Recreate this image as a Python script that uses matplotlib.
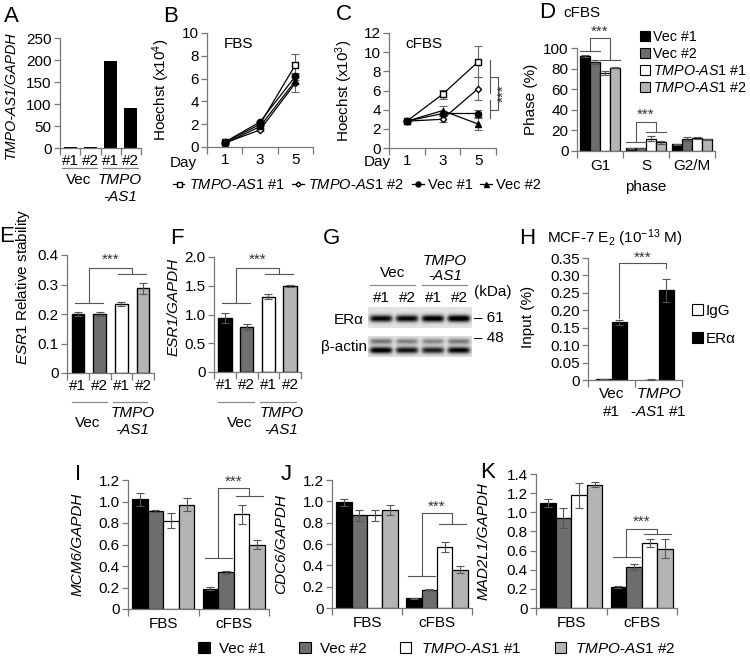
import numpy as np
import matplotlib
matplotlib.use("Agg")
import matplotlib.pyplot as plt
import matplotlib.transforms as mtransforms
from matplotlib.patches import Patch
from matplotlib.lines import Line2D
from matplotlib.ticker import FixedLocator, FuncFormatter

plt.rcParams['font.family'] = ['Liberation Sans', 'DejaVu Sans']
plt.rcParams['font.size'] = 10.5
plt.rcParams['mathtext.fontset'] = 'custom'
plt.rcParams['mathtext.rm'] = 'Liberation Sans'
plt.rcParams['mathtext.it'] = 'Liberation Sans:italic'
plt.rcParams['mathtext.default'] = 'regular'

# ---------------- data ----------------
clones = ['#1', '#2', '#1', '#2']
series = ['Vec #1', 'Vec #2', 'TMPO-AS1 #1', 'TMPO-AS1 #2']
fills = ['#000000', '#6e6e6e', '#ffffff', '#b4b4b4']

# A
a_vals = [3, 3, 198, 90]

# B / C (Hoechst, days 1, 3, 5)
days = ['1', '3', '5']
curve_names = ['TMPO-AS1 #1', 'TMPO-AS1 #2', 'Vec #1', 'Vec #2']
b_vals = [[0.4, 2.0, 7.2], [0.35, 1.5, 5.6], [0.42, 2.2, 6.2], [0.3, 1.8, 5.8]]
b_errs = [[0.05, 0.15, 1.0], [0.05, 0.1, 0.8], [0.05, 0.1, 0.3], [0.05, 0.1, 0.3]]
c_vals = [[2.8, 5.6, 9.0], [2.8, 3.0, 6.2], [2.8, 3.6, 3.6], [2.8, 3.9, 2.5]]
c_errs = [[0.1, 0.45, 1.6], [0.1, 0.3, 1.2], [0.1, 0.3, 0.4], [0.1, 0.5, 0.6]]

# D (cell cycle phase, cFBS)
phases = ['G1', 'S', 'G2/M']
d_vals = [[92, 86, 76, 81], [2.5, 3, 12, 8.5], [6.5, 12, 12.5, 11.5]]
d_errs = [[1, 2, 2, 0.5], [0.3, 0.3, 2.5, 1.5], [0.3, 2, 1, 0.5]]

# E, F
e_vals = [0.200, 0.200, 0.235, 0.287]
e_errs = [0.008, 0.008, 0.007, 0.018]
f_vals = [0.94, 0.78, 1.31, 1.50]
f_errs = [0.09, 0.05, 0.04, 0.02]

# G (western blot band intensities)
era_band = [0.9, 0.9, 0.95, 1.0]
actin_band = [0.95, 0.85, 0.8, 0.9]

# H (ChIP)
h_groups = ['Vec\n#1', '$\\mathit{TMPO}$\n-$\\mathit{AS1}$ #1']
h_igg = [0.003, 0.001]
h_igg_err = [0.001, 0.0005]
h_era = [0.165, 0.258]
h_era_err = [0.007, 0.033]

# I, J, K (FBS, cFBS)
conds = ['FBS', 'cFBS']
i_vals = [[1.02, 0.91, 0.82, 0.97], [0.19, 0.34, 0.88, 0.60]]
i_errs = [[0.06, 0.01, 0.07, 0.06], [0.015, 0.01, 0.085, 0.04]]
j_vals = [[0.99, 0.87, 0.87, 0.92], [0.09, 0.17, 0.57, 0.36]]
j_errs = [[0.03, 0.05, 0.05, 0.05], [0.003, 0.005, 0.045, 0.03]]
k_vals = [[1.10, 0.94, 1.18, 1.29], [0.22, 0.43, 0.68, 0.62]]
k_errs = [[0.04, 0.10, 0.13, 0.03], [0.01, 0.03, 0.04, 0.10]]

W, H = 750, 656
fig = plt.figure(figsize=(W / 100, H / 100), dpi=100)
AX = '#777777'
SIG = '#555555'
FS = 11


def it(s):
    # italicise the gene part of a series name
    if s.startswith('TMPO-AS1'):
        return '$\\mathit{TMPO}$-$\\mathit{AS1}$' + s[8:]
    return s


def px_axes(x0, x1, y0, y1):
    return fig.add_axes([x0 / W, 1 - y1 / H, (x1 - x0) / W, (y1 - y0) / H])


def ftext(x, y, s, **kw):
    kw.setdefault('ha', 'center')
    kw.setdefault('va', 'center')
    kw.setdefault('fontsize', FS)
    return fig.text(x / W, 1 - y / H, s, **kw)


def style(ax):
    for s in ['top', 'right']:
        ax.spines[s].set_visible(False)
    for s in ['left', 'bottom']:
        ax.spines[s].set_color(AX)
        ax.spines[s].set_linewidth(0.9)
    ax.tick_params(axis='y', colors=AX, labelcolor='black', labelsize=FS, length=4, width=0.9, pad=2)


def cat_x(ax, n, labels, pad=4):
    ax.set_xlim(0, n)
    ax.xaxis.set_major_locator(FixedLocator(np.arange(n) + 0.5))
    ax.set_xticklabels(labels)
    ax.xaxis.set_minor_locator(FixedLocator(np.arange(n + 1)))
    ax.tick_params(axis='x', which='major', length=0, pad=pad, labelsize=FS)
    ax.tick_params(axis='x', which='minor', length=5, width=0.9, color=AX)


def yaxis(ax, top, step, dec):
    ax.set_ylim(0, top)
    ax.set_yticks(np.arange(0, top + step / 2, step))
    ax.yaxis.set_major_formatter(FuncFormatter(lambda v, p: '0' if abs(v) < 1e-9 else f'{v:.{dec}f}'))


def ylab(ax, s, xpx, ypx=None, fs=11, **kw):
    ax.set_ylabel(s, fontsize=fs, **kw)
    pos = ax.get_position()
    x0, w = pos.x0 * W, pos.width * W
    ytop, h = (1 - pos.y1) * H, pos.height * H
    yf = 0.5 if ypx is None else (ytop + h - ypx) / h
    ax.yaxis.set_label_coords((xpx - x0) / w, yf)


def below(ax, x, ypx, s, **kw):
    tr = mtransforms.blended_transform_factory(ax.transData, fig.transFigure)
    ax.text(x, 1 - ypx / H, s, transform=tr, ha='center', va='center', fontsize=FS, clip_on=False, **kw)


def uline(ax, x0, x1, ypx):
    tr = mtransforms.blended_transform_factory(ax.transData, fig.transFigure)
    ax.plot([x0, x1], [1 - ypx / H] * 2, transform=tr, color='#888888', lw=0.9, clip_on=False,
            scalex=False, scaley=False)


def sig(ax, xa, xb, ya, yb, ytop, ystar, half=None):
    kw = dict(color=SIG, lw=0.8, clip_on=False, scalex=False, scaley=False)
    if half is not None:
        ax.plot([xa - half, xa + half], [ya, ya], **kw)
        ax.plot([xb - half, xb + half], [yb, yb], **kw)
    ax.plot([xa, xa, xb, xb], [ya, ytop, ytop, yb], **kw)
    ax.text((xa + xb) / 2, ystar, '***', ha='center', va='center', fontsize=FS, color='#333333')


def ebar(ax, x, y, e):
    ax.errorbar(x, y, yerr=e, fmt='none', ecolor=SIG, elinewidth=0.8, capsize=3, capthick=0.8, zorder=3)


def grouped(ax, vals, errs, w):
    ncat = len(vals)
    for k in range(4):
        xs = np.arange(ncat) + 0.5 + (k - 1.5) * w
        v = [vals[c][k] for c in range(ncat)]
        e = [errs[c][k] for c in range(ncat)]
        ax.bar(xs, v, w, color=fills[k], edgecolor='black', lw=0.9, zorder=2)
        ebar(ax, xs, v, e)


def single(ax, vals, errs, w):
    xs = np.arange(4) + 0.5
    ax.bar(xs, vals, w, color=fills, edgecolor='black', lw=1.0, zorder=2)
    ebar(ax, xs, vals, errs)


# ---------------- A ----------------
axA = px_axes(60, 141, 38, 148)
style(axA)
axA.bar(np.arange(4) + 0.5, a_vals, 0.65, color='black', zorder=2)
yaxis(axA, 250, 50, 0)
cat_x(axA, 4, clones)
ylab(axA, 'TMPO-AS1/GAPDH', 18, 95, fs=10.3, style='italic')
uline(axA, 0.12, 1.85, 168)
uline(axA, 2.1, 3.85, 168)
below(axA, 0.9, 180, 'Vec')
below(axA, 2.95, 180, 'TMPO', style='italic')
below(axA, 2.95, 197, '-AS1', style='italic')

# ---------------- B / C ----------------
markers = [('s', 'white', 4.5), ('D', 'white', 3.2), ('o', 'black', 4.5), ('^', 'black', 4.5)]


def curves(ax, vals, errs):
    x = np.arange(3) + 0.5
    for y, e, (m, mfc, ms) in zip(vals, errs, markers):
        ax.errorbar(x, y, yerr=e, color='black', lw=0.9, marker=m, mfc=mfc, mec='black', ms=ms,
                    ecolor='#666666', elinewidth=0.8, capsize=3, capthick=0.8)


axB = px_axes(207, 313, 33, 147)
style(axB)
curves(axB, b_vals, b_errs)
yaxis(axB, 10, 2, 0)
cat_x(axB, 3, days)
ylab(axB, 'Hoechst (x10$^{4}$)', 172)
axB.text(0.88, 9.0, 'FBS', ha='center', va='center', fontsize=FS)
ftext(197, 163, 'Day', ha='right')

axC = px_axes(389, 496, 33, 148)
style(axC)
curves(axC, c_vals, c_errs)
yaxis(axC, 12, 2, 0)
cat_x(axC, 3, days)
ylab(axC, 'Hoechst (x10$^{3}$)', 355)
axC.text(0.98, 10.9, 'cFBS', ha='center', va='center', fontsize=FS)
ftext(391, 162, 'Day', ha='right')
kw = dict(color=SIG, lw=0.8, clip_on=False, scalex=False, scaley=False)
axC.plot([2.83, 2.83], [9.2, 5.7], **kw)
axC.plot([2.83, 3.05, 3.05, 2.83], [7.4, 7.4, 4.0, 4.0], **kw)
axC.plot([2.83, 2.83], [5.0, 3.1], **kw)
axC.text(3.22, 5.7, '***', rotation=90, ha='center', va='center', fontsize=FS, color='#333333')

handles = [Line2D([], [], color='black', lw=0.9, marker=m, mfc=mfc, mec='black', ms=ms * 0.8)
           for m, mfc, ms in markers]
fig.legend(handles, [it(s) for s in curve_names], ncol=4, loc='center',
           bbox_to_anchor=(357 / W, 1 - 185 / H), frameon=False, fontsize=10.5,
           handlelength=0.8, handletextpad=0.3, columnspacing=0.5, borderpad=0)

# ---------------- D ----------------
axD = px_axes(577, 715, 48, 151)
style(axD)
wd = 0.215
grouped(axD, d_vals, d_errs, wd)
yaxis(axD, 100, 20, 0)
cat_x(axD, 3, phases, pad=6)
ylab(axD, 'Phase (%)', 538)
axD.set_xlabel('phase', fontsize=FS, labelpad=5)
sig(axD, 0.5 - wd, 0.5 + wd, 97, 88, 110, 116, half=wd)
sig(axD, 1.5 - wd, 1.5 + wd, 9, 18.5, 28, 35, half=wd)
fig.legend([Patch(facecolor=c, edgecolor='black', lw=0.8) for c in fills], [it(s) for s in series],
           loc='upper left', bbox_to_anchor=(640 / W, 1 - 30 / H), frameon=False, fontsize=10.3,
           labelspacing=0.2, handlelength=0.7, handleheight=0.7, handletextpad=0.2,
           borderpad=0, borderaxespad=0)

# ---------------- E ----------------
axE = px_axes(67, 154, 255, 373)
style(axE)
single(axE, e_vals, e_errs, 0.57)
yaxis(axE, 0.4, 0.1, 1)
cat_x(axE, 4, clones)
ylab(axE, '$\\mathit{ESR1}$ Relative stability', 32, 287)
sig(axE, 1.0, 3.0, 0.237, 0.336, 0.356, 0.383, half=0.65)
uline(axE, 0.23, 1.84, 402)
uline(axE, 2.1, 3.7, 402)
below(axE, 0.95, 423, 'Vec')
below(axE, 3.0, 413, 'TMPO', style='italic')
below(axE, 3.0, 430, '-AS1', style='italic')

# ---------------- F ----------------
axF = px_axes(214, 301, 257, 372)
style(axF)
single(axF, f_vals, f_errs, 0.62)
yaxis(axF, 2.0, 0.5, 1)
cat_x(axF, 4, clones)
ylab(axF, 'ESR1/GAPDH', 181, 307, style='italic')
sig(axF, 1.0, 3.0, 1.2, 1.70, 1.81, 1.95, half=0.65)
uline(axF, 0.2, 1.85, 402)
uline(axF, 2.1, 3.75, 402)
below(axF, 1.2, 423, 'Vec')
below(axF, 3.1, 413, 'TMPO', style='italic')
below(axF, 3.1, 430, '-AS1', style='italic')


# ---------------- G (blot) ----------------
def blot(ax, bands, rows):
    xs = np.linspace(0, 4, 260)
    ys = np.linspace(0, 1, 60)
    img = np.full((ys.size, xs.size), 0.2)
    for centre, height, sigma in rows:
        prof = np.zeros_like(xs)
        for i, v in enumerate(bands):
            prof = np.maximum(prof, v * height * np.exp(-((xs - (i + 0.5)) / 0.45) ** 6))
        img += prof[None, :] * np.exp(-((ys - centre) / sigma) ** 2)[:, None]
    ax.imshow(np.clip(img, 0, 1), cmap='Greys', vmin=0, vmax=1, extent=[0, 4, 1, 0],
              aspect='auto', interpolation='bilinear')
    ax.set_xlim(0, 4)
    ax.set_ylim(1, 0)
    ax.axis('off')


axG1 = px_axes(368, 472, 307, 328)
blot(axG1, era_band, [(0.55, 0.9, 0.18)])
axG2 = px_axes(368, 472, 336, 357)
blot(axG2, actin_band, [(0.68, 0.9, 0.17), (0.25, 0.45, 0.15)])
for i, c in enumerate(clones):
    ftext(381 + 26 * i, 298, c)
ftext(393, 273, 'Vec')
ftext(445, 261, 'TMPO', style='italic')
ftext(445, 276, '-AS1', style='italic')
fig.add_artist(Line2D([370 / W, 415 / W], [1 - 285 / H] * 2, color='#888888', lw=0.9))
fig.add_artist(Line2D([422 / W, 467 / W], [1 - 285 / H] * 2, color='#888888', lw=0.9))
ftext(493, 292, '(kDa)')
ftext(364, 320, 'ER\u03b1', ha='right')
ftext(367, 347, '\u03b2-actin', ha='right')
ftext(474, 318, '\u2013 61', ha='left')
ftext(474, 338, '\u2013 48', ha='left')

# ---------------- H ----------------
axH = px_axes(588, 682, 258, 380)
style(axH)
wh = 0.33
xh = np.arange(2) + 0.5
axH.bar(xh - wh / 2, h_igg, wh, color='white', edgecolor='black', lw=0.9, zorder=2)
axH.bar(xh + wh / 2, h_era, wh, color='black', edgecolor='black', lw=0.9, zorder=2)
ebar(axH, xh - wh / 2, h_igg, h_igg_err)
ebar(axH, xh + wh / 2, h_era, h_era_err)
yaxis(axH, 0.35, 0.05, 2)
cat_x(axH, 2, h_groups, pad=5)
for t in axH.get_xticklabels():
    t.set_linespacing(1.4)
ylab(axH, 'Input (%)', 535, 317)
sig(axH, 0.5 + wh / 2, 1.5 + wh / 2, 0.178, 0.322, 0.335, 0.352)
ftext(615, 238, 'MCF-7 E$_2$ (10$^{-13}$ M)')
fig.legend([Patch(facecolor='white', edgecolor='black', lw=0.8),
            Patch(facecolor='black', edgecolor='black', lw=0.8)], ['IgG', 'ER\u03b1'],
           loc='upper left', bbox_to_anchor=(692 / W, 1 - 304 / H), frameon=False, fontsize=FS,
           labelspacing=0.9, handlelength=0.7, handleheight=0.7, handletextpad=0.2,
           borderpad=0, borderaxespad=0)

# ---------------- I / J / K ----------------
wg = 0.22
for box, vals, errs, top, step, name, lx, marks in [
    ((128, 269, 480, 609), i_vals, i_errs, 1.2, 0.2, 'MCM6/GAPDH', 85, (0.47, 1.05, 1.125, 1.18)),
    ((332, 472, 480, 608), j_vals, j_errs, 1.2, 0.2, 'CDC6/GAPDH', 288, (0.30, 0.79, 0.89, 0.95)),
    ((536, 677, 474, 608), k_vals, k_errs, 1.4, 0.2, 'MAD2L1/GAPDH', 491, (0.53, 0.77, 0.83, 0.90)),
]:
    ax = px_axes(*box)
    style(ax)
    grouped(ax, vals, errs, wg)
    yaxis(ax, top, step, 1)
    cat_x(ax, 2, conds, pad=6)
    ylab(ax, name, lx, style='italic')
    sig(ax, 1.5 - wg, 1.5 + wg, marks[0], marks[1], marks[2], marks[3], half=0.19)

fig.legend([Patch(facecolor=c, edgecolor='black', lw=0.8) for c in fills], [it(s) for s in series],
           ncol=4, loc='center', bbox_to_anchor=(437 / W, 1 - 649 / H), frameon=False, fontsize=FS,
           handlelength=0.75, handleheight=0.75, handletextpad=0.6, columnspacing=2.2, borderpad=0)

# ---------------- panel letters ----------------
for s, x, y in [('A', 11, 17), ('B', 171, 17), ('C', 344, 15), ('D', 547, 12), ('E', 7, 237),
                ('F', 177, 238), ('G', 331, 238), ('H', 527, 238), ('I', 78, 474), ('J', 286, 474),
                ('K', 488, 472)]:
    ftext(x, y, s, fontsize=16)
ftext(582, 13, 'cFBS')

fig.savefig('out.png', dpi=100)
